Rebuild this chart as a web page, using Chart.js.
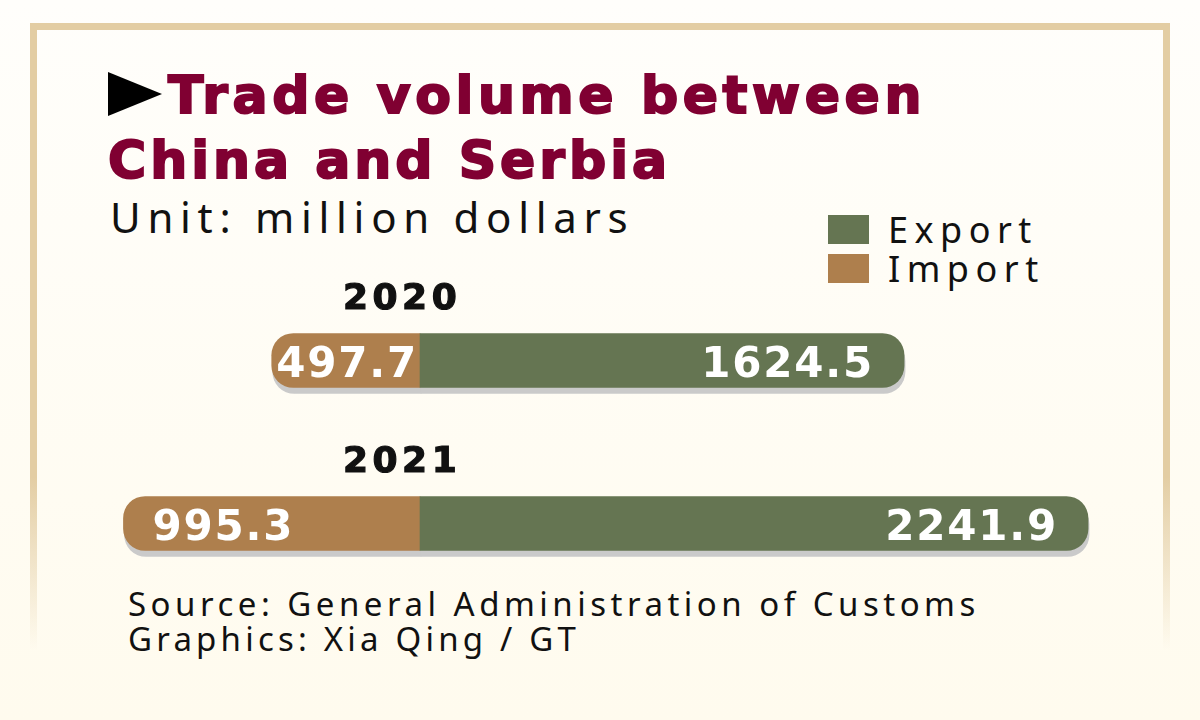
<!DOCTYPE html>
<html>
<head>
<meta charset="utf-8">
<script src="https://cdn.jsdelivr.net/npm/chart.js@4.4.1/dist/chart.umd.min.js"></script>
<style>
  body { margin: 0; width: 1200px; height: 720px; overflow: hidden; position: relative;
         background: linear-gradient(#fffefb, #fffbee); font-family: "Noto Sans", sans-serif; color: #111; }
  #frame { position: absolute; left: 30px; top: 23px; width: 1126px; height: 620px;
           border-style: solid; border-width: 7px 7px 0 7px;
           border-image: linear-gradient(#e3cda3 72%, rgba(227,205,163,0)) 1; }
  #tri { position: absolute; left: 108px; top: 72px; width: 0; height: 0;
         border-left: 54px solid #000; border-top: 22px solid transparent; border-bottom: 22px solid transparent; }
  #title { position: absolute; left: 108px; top: 63px; font: bold 52px/65px "DejaVu Sans", sans-serif;
           color: #800032; -webkit-text-stroke: 2px #800032; letter-spacing: 4.6px;
           text-indent: 60px; white-space: nowrap; }
  #title .l2 { letter-spacing: 4px; }
  #unit { position: absolute; left: 110px; top: 192px; font-size: 42px; line-height: 50px; letter-spacing: 6.7px; }
  #legend { position: absolute; left: 828px; top: 210px; }
  .item { display: flex; align-items: center; height: 39px; font-size: 36px; letter-spacing: 6.5px; }
  .sw { width: 41px; height: 29px; margin-right: 19px; flex: none; }
  #source { position: absolute; left: 128px; top: 586px; font-size: 33px; line-height: 35px; letter-spacing: 4.5px; }
  #source .l2 { letter-spacing: 4.2px; }
  #wrap { position: absolute; left: 0; top: 0; width: 1200px; height: 720px; }
</style>
</head>
<body>
<div id="frame"></div>
<div id="tri"></div>
<div id="title">Trade volume between<br><span class="l2">China and Serbia</span></div>
<div id="unit">Unit: million dollars</div>
<div id="legend"></div>
<div id="source">Source: General Administration of Customs<br><span class="l2">Graphics: Xia Qing / GT</span></div>
<div id="wrap"><canvas id="chart" width="1200" height="720"></canvas></div>
<script>
// values in million dollars
const years = ['2020', '2021'];
const exportValues = [1624.5, 2241.9];
const importValues = [497.7, 995.3];

const exportColor = '#657552';
const importColor = '#ae7f4d';

// grey drop shadow under the bars
const barShadow = {
  id: 'barShadow',
  beforeDatasetsDraw(chart) {
    const c = chart.ctx;
    c.save();
    c.shadowColor = '#cacaca';
    c.shadowOffsetX = 1;
    c.shadowOffsetY = 6;
    c.shadowBlur = 0;
  },
  afterDatasetsDraw(chart) {
    chart.ctx.restore();
  }
};

// numbers inside the bars + year above each bar
const barLabels = {
  id: 'barLabels',
  afterDatasetsDraw(chart) {
    const c = chart.ctx;
    c.save();
    c.font = 'bold 42px "DejaVu Sans"';
    c.letterSpacing = '1.8px';
    c.fillStyle = '#fff';
    c.textBaseline = 'alphabetic';
    chart.getDatasetMeta(0).data.forEach(function (bar, i) {
      c.textAlign = 'right';
      c.fillText(exportValues[i].toFixed(1), bar.x - 30, bar.y + 16);
    });
    chart.getDatasetMeta(1).data.forEach(function (bar, i) {
      const t = importValues[i].toFixed(1);
      const w = c.measureText(t).width;
      c.textAlign = 'left';
      c.fillText(t, Math.min(bar.x + 29, bar.base - w - 2), bar.y + 16);
    });

    c.font = 'bold 36px "DejaVu Sans"';
    c.letterSpacing = '4.5px';
    c.fillStyle = '#111';
    c.strokeStyle = '#111';
    c.lineWidth = 1.2;
    c.textAlign = 'left';
    chart.getDatasetMeta(0).data.forEach(function (bar, i) {
      const x = chart.chartArea.left + 243;
      const y = bar.y - bar.height / 2 - 25;
      c.fillText(years[i], x, y);
      c.strokeText(years[i], x, y);
    });
    c.restore();
  }
};

const chart = new Chart(document.getElementById('chart'), {
  type: 'bar',
  data: {
    labels: years,
    datasets: [
      { label: 'Export', data: exportValues, backgroundColor: exportColor },
      { label: 'Import', data: importValues.map(v => -v), backgroundColor: importColor }
    ]
  },
  options: {
    indexAxis: 'y',
    responsive: false,
    animation: false,
    layout: { padding: { left: 100, right: 100, top: 279, bottom: 115 } },
    datasets: { bar: { barThickness: 54, borderRadius: 22, borderSkipped: 'start' } },
    scales: {
      x: { stacked: true, display: false, min: -1074, max: 2282 },
      y: { stacked: true, display: false }
    },
    plugins: { legend: { display: false }, tooltip: { enabled: false } }
  },
  plugins: [barShadow, barLabels]
});

// html legend built from the datasets
const legend = document.getElementById('legend');
chart.data.datasets.forEach(function (ds) {
  const row = document.createElement('div');
  row.className = 'item';
  row.innerHTML = '<span class="sw" style="background:' + ds.backgroundColor + '"></span>' + ds.label;
  legend.appendChild(row);
});
</script>
</body>
</html>
